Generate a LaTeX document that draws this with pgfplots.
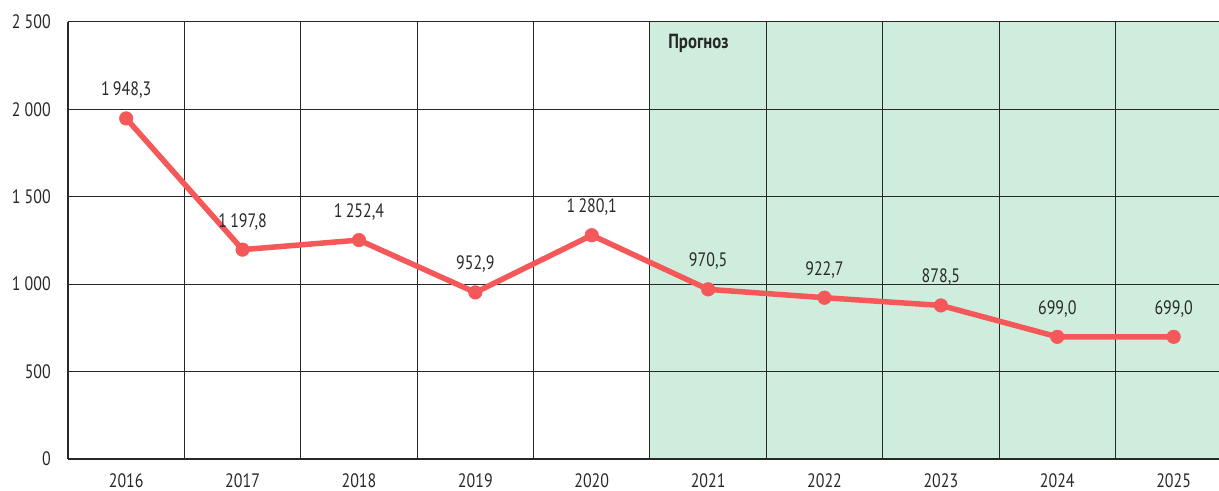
\documentclass[border=0pt]{standalone}
\usepackage{pgfplots}
\pgfplotsset{compat=1.18}
\usepackage{fontspec}
\setmainfont{PT Sans}[FakeStretch=0.82]
\definecolor{linered}{RGB}{244,88,88}
\definecolor{fcgreen}{RGB}{207,237,220}
\definecolor{textgray}{RGB}{40,40,40}
\definecolor{gridgray}{RGB}{40,40,40}
\begin{document}
\begin{tikzpicture}
\begin{axis}[
  set layers,
  scale only axis,
  width=1151bp, height=437bp,
  at={(68bp,32bp)}, anchor=south west,
  xmin=-0.5, xmax=9.39,
  ymin=0, ymax=2500,
  axis x line*=bottom, axis y line*=left,
  axis line style={-, gridgray, line width=1.1bp},
  xtick={0,...,9},
  xticklabels={2016,2017,2018,2019,2020,2021,2022,2023,2024,2025},
  minor xtick={0.5,1.5,...,8.5},
  xminorgrids=true,
  ytick={0,500,...,2500},
  ymajorgrids=true,
  major tick length=0pt, minor tick length=0pt,
  grid style={gridgray, line width=1bp},
  minor grid style={gridgray, line width=1bp},
  tick label style={font=\fontsize{19.5}{21}\selectfont, text=textgray},
  xticklabel style={inner sep=0pt, yshift=-14bp},
  yticklabel style={inner sep=0pt, xshift=-17bp, anchor=east},
  yticklabel={\pgfmathprintnumber[fixed, precision=0, 1000 sep={\ }, assume math mode=true]{\tick}},
  clip=true,
]
\begin{pgfonlayer}{axis background}
  \fill[fcgreen] (axis cs:4.5,0) rectangle (rel axis cs:1,1);
\end{pgfonlayer}
\addplot[color=linered, line width=5.5bp, mark=*, mark size=6.8bp,
  mark options={solid, fill=linered, draw=linered, line width=0.5bp},
  nodes near coords={\pgfmathprintnumber[fixed, fixed zerofill, precision=1, use comma, 1000 sep={\,}, assume math mode=true]{\pgfplotspointmeta}},
  point meta=y,
  every node near coord/.append style={anchor=center, yshift=28bp, text=textgray, font=\fontsize{19.5}{21}\selectfont},
] coordinates {
  (0,1948.3) (1,1197.8) (2,1252.4) (3,952.9) (4,1280.1)
  (5,970.5) (6,922.7) (7,878.5) (8,699.0) (9,699.0)
};
\node[anchor=west, inner sep=0pt, text=textgray, font=\bfseries\fontsize{20.5}{22}\selectfont] at (axis cs:4.656,2377) {Прогноз};
\end{axis}
\pgfresetboundingbox
\path (0,0) rectangle (1219bp,491bp);
\end{tikzpicture}
\end{document}
